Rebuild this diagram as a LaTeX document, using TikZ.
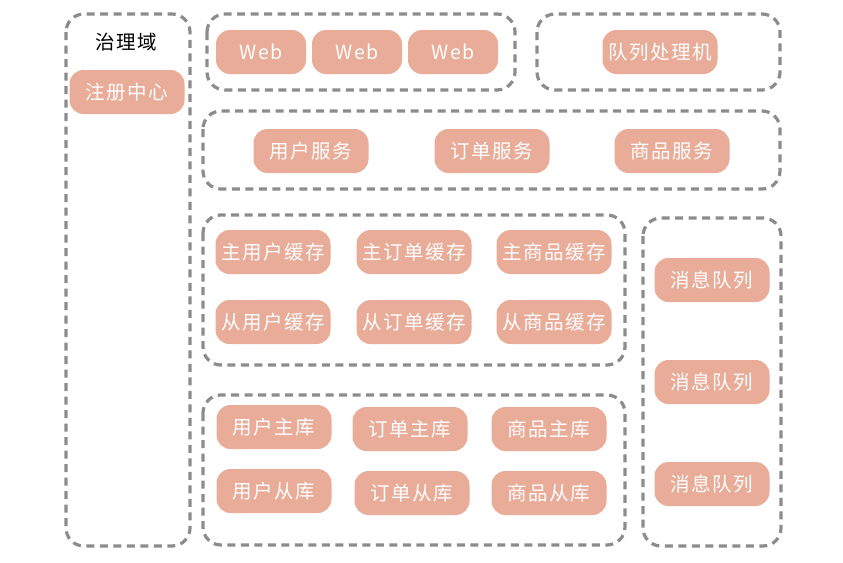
\documentclass[tikz,border=0pt]{standalone}
\usepackage{fontspec}
\setmainfont{Noto Sans CJK SC}[LetterSpace=8]
\usetikzlibrary{positioning}
\definecolor{salmon}{RGB}{232,172,152}
\definecolor{zonegray}{RGB}{140,140,140}

\begin{document}
\begin{tikzpicture}[x=1pt, y=-1pt,
    zone/.style={draw=zonegray, line width=3.2pt, dash pattern=on 8pt off 5.5pt, rounded corners=18pt},
    box/.style={fill=salmon, text=white, rounded corners=14pt, minimum width=115pt, minimum height=44pt, font=\fontsize{19.5}{19.5}\selectfont, inner sep=0pt},
    webbox/.style={box, minimum width=90pt}]
    \useasboundingbox (0, 0) rectangle (843, 562);

    % zones
    \draw[zone] (66, 14) rectangle (190, 546);
    \draw[zone] (207, 14) rectangle (515, 90);
    \draw[zone] (537, 14) rectangle (780, 90);
    \draw[zone] (203, 111) rectangle (780, 189);
    \draw[zone] (203, 215) rectangle (625, 365);
    \draw[zone] (643, 218) rectangle (781, 546);
    \draw[zone] (203, 395) rectangle (625, 545);

    % left column
    \node[font=\fontsize{19.5}{19.5}\selectfont] (govlabel) at (126, 42) {治理域};
    \node[box] (registry) at (127, 92) {注册中心};

    % top row
    \node[webbox] (web1) at (261, 52) {Web};
    \node[webbox] (web2) at (357, 52) {Web};
    \node[webbox] (web3) at (453, 52) {Web};
    \node[box] (queueproc) at (660, 52) {队列处理机};

    % services
    \node[box] (usersvc) at (311, 151) {用户服务};
    \node[box] (ordersvc) at (492, 151) {订单服务};
    \node[box] (goodssvc) at (672, 151) {商品服务};

    % caches
    \node[box] (usercacheM) at (273, 252) {主用户缓存};
    \node[box] (ordercacheM) at (414, 252) {主订单缓存};
    \node[box] (goodscacheM) at (554, 252) {主商品缓存};
    \node[box] (usercacheS) at (273, 322) {从用户缓存};
    \node[box] (ordercacheS) at (414, 322) {从订单缓存};
    \node[box] (goodscacheS) at (554, 322) {从商品缓存};

    % message queues
    \node[box] (mq1) at (712, 280) {消息队列};
    \node[box] (mq2) at (712, 382) {消息队列};
    \node[box] (mq3) at (712, 484) {消息队列};

    % databases
    \node[box] (userdbM) at (274, 427) {用户主库};
    \node[box] (orderdbM) at (410, 429) {订单主库};
    \node[box] (goodsdbM) at (549, 429) {商品主库};
    \node[box] (userdbS) at (274, 491) {用户从库};
    \node[box] (orderdbS) at (412, 493) {订单从库};
    \node[box] (goodsdbS) at (549, 493) {商品从库};
\end{tikzpicture}
\end{document}
